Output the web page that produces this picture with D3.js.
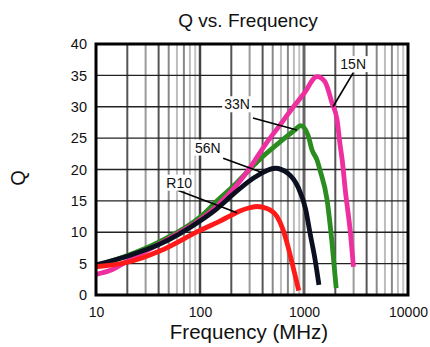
<!DOCTYPE html>
<html>
<head>
<meta charset="utf-8">
<script src="https://cdn.jsdelivr.net/npm/d3@7"></script>
<style>
    body { margin: 0; background: #fff; }
    svg { display: block; font-family: Arial, "Liberation Sans", sans-serif; }
</style>
</head>
<body>
<svg width="430" height="347"></svg>
<script>
// tick values
const freqTicks = [10, 100, 1000, 10000];
const qTicks = [0, 5, 10, 15, 20, 25, 30, 35, 40];
const minorSteps = [2, 3, 4, 5, 6, 7, 8, 9];

// Q curves, [MHz, Q]
const r10 = [[10, 4.5], [21, 5.3], [41, 7.0], [100, 10.3], [152, 11.7], [194, 12.6], [242, 13.4],
    [300, 13.9], [353, 14.1], [440, 13.8], [550, 12.5], [626, 10.5], [700, 7.8], [784, 4.5], [890, 0.7]];
const n56 = [[10, 4.8], [21, 6.3], [41, 8.1], [100, 11.8], [139, 13.5], [217, 16.3], [339, 18.8],
    [527, 20.2], [700, 19.4], [876, 17.2], [1040, 13.6], [1142, 9.9], [1279, 5.6], [1392, 1.6]];
const n33 = [[10, 4.6], [21, 6.4], [41, 8.5], [100, 12.4], [146, 15.0], [217, 17.6], [292, 19.8],
    [430, 22.5], [630, 24.8], [815, 26.3], [930, 27.0], [1092, 25.5], [1195, 23.1], [1334, 21.5],
    [1424, 19.9], [1665, 15.2], [1860, 8.3], [2040, 1.1]];
const n15 = [[10, 3.3], [13.6, 3.9], [21, 5.6], [41, 8.2], [100, 12.0], [146, 14.2], [217, 17.2],
    [292, 19.9], [430, 24.1], [570, 26.8], [760, 29.6], [1000, 32.1], [1334, 34.8], [1590, 34.0],
    [1860, 30.6], [2080, 27.9], [2220, 24.0], [2330, 21.5], [2495, 16.7], [2795, 9.9], [2990, 4.5]];

const seriesNames = ["33N", "15N", "56N", "R10"];
const seriesData = [n33, n15, n56, r10];
const seriesColors = ["#2b8c1f", "#ee2f9f", "#0b1020", "#ff1a1a"];

// callout labels: text anchor and pointer ends in [MHz, Q]
const calloutNames = ["15N", "33N", "56N", "R10"];
const calloutText = [[2970, 36.0], [227, 29.6], [119, 22.7], [63, 17.1]];
const calloutFrom = [[2970, 35.4], [323, 28.2], [167, 21.8], [61, 16.7]];
const calloutTo = [[1900, 30.0], [853, 26.3], [402, 19.5], [227, 13.1]];

document.addEventListener('DOMContentLoaded', () => {
    let svg = d3.select("svg");
    let bw = 430, bh = 347;

    let margin = {top: 44, right: 22, bottom: 52, left: 96};
    let width = bw - margin.left - margin.right;
    let height = bh - margin.top - margin.bottom;

    let xScale = d3.scaleLog().domain([10, 10000]).range([0, width]);
    let yScale = d3.scaleLinear().domain([0, 40]).range([height, 0]);

    svg.append("text")
        .attr("x", 248)
        .attr("y", 27)
        .attr("font-size", "19px")
        .attr("text-anchor", "middle")
        .attr("fill", "#111")
        .text("Q vs. Frequency");

    svg.append("text")
        .attr("x", margin.left + width / 2 - 3)
        .attr("y", 339)
        .attr("font-size", "20.5px")
        .attr("text-anchor", "middle")
        .attr("fill", "#111")
        .text("Frequency (MHz)");

    svg.append("text")
        .attr("transform", "translate(25,178) rotate(-90)")
        .attr("font-size", "20px")
        .attr("text-anchor", "middle")
        .attr("fill", "#111")
        .text("Q");

    let g = svg.append("g")
        .attr("transform", "translate(" + margin.left + "," + margin.top + ")");

    // vertical grid, a little uneven like the scanned original
    let minorColor = {2: "#555", 3: "#9a9a9a", 4: "#555", 5: "#888", 6: "#bdbdbd", 7: "#888", 8: "#bdbdbd", 9: "#c4c4c4"};
    let vLines = [];
    [10, 100, 1000].forEach(d => {
        minorSteps.forEach(m => vLines.push({f: d * m, c: minorColor[m], w: 2}));
    });
    vLines.push({f: 100, c: "#444", w: 2.5});
    vLines.push({f: 1000, c: "#666", w: 3});

    g.append("g").selectAll("line")
        .data(vLines)
        .enter().append("line")
        .attr("x1", d => xScale(d.f))
        .attr("x2", d => xScale(d.f))
        .attr("y1", 0)
        .attr("y2", height)
        .attr("stroke", d => d.c)
        .attr("stroke-width", d => d.w);

    g.append("g").selectAll("line")
        .data(qTicks.slice(1, -1))
        .enter().append("line")
        .attr("x1", 0)
        .attr("x2", width)
        .attr("y1", d => yScale(d))
        .attr("y2", d => yScale(d))
        .attr("stroke", "#222")
        .attr("stroke-width", 1.4);

    let xAxis = g.append("g")
        .attr("transform", "translate(0," + height + ")")
        .call(d3.axisBottom(xScale).tickValues(freqTicks).tickFormat(d3.format("d")).tickSize(0).tickPadding(12));
    let yAxis = g.append("g")
        .call(d3.axisLeft(yScale).tickValues(qTicks).tickSize(0).tickPadding(9));
    [xAxis, yAxis].forEach(a => {
        a.select(".domain").remove();
        a.selectAll("text").attr("font-size", "14px").attr("fill", "#111")
            .attr("font-family", "Arial, 'Liberation Sans', sans-serif");
    });
    yAxis.selectAll("text").attr("font-size", "14.5px");

    let line = d3.line()
        .x(d => xScale(d[0]))
        .y(d => yScale(d[1]))
        .curve(d3.curveMonotoneX);

    seriesData.forEach((s, i) => {
        g.append("path")
            .datum(s)
            .attr("fill", "none")
            .attr("stroke", seriesColors[i])
            .attr("stroke-width", 4.8)
            .attr("stroke-linejoin", "round")
            .attr("d", line);
    });

    g.append("rect")
        .attr("width", width)
        .attr("height", height)
        .attr("fill", "none")
        .attr("stroke", "#000")
        .attr("stroke-width", 3);

    calloutNames.forEach((name, i) => {
        g.append("line")
            .attr("x1", xScale(calloutFrom[i][0]))
            .attr("y1", yScale(calloutFrom[i][1]))
            .attr("x2", xScale(calloutTo[i][0]))
            .attr("y2", yScale(calloutTo[i][1]))
            .attr("stroke", "#000")
            .attr("stroke-width", 1.6);

        let t = g.append("text")
            .attr("x", xScale(calloutText[i][0]))
            .attr("y", yScale(calloutText[i][1]))
            .attr("font-size", "14px")
            .attr("text-anchor", "middle")
            .attr("fill", "#111")
            .text(name);
        let b = t.node().getBBox();
        g.insert("rect", function () { return t.node(); })
            .attr("x", b.x - 2)
            .attr("y", b.y)
            .attr("width", b.width + 4)
            .attr("height", b.height)
            .attr("fill", "#fff");
    });
});
</script>
</body>
</html>
